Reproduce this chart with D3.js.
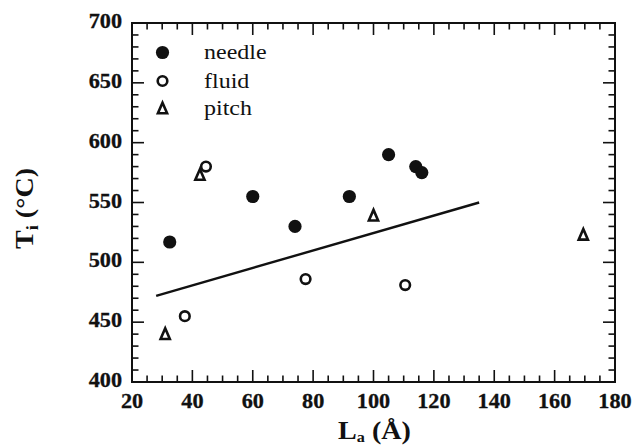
<!DOCTYPE html>
<html>
<head>
<meta charset="utf-8">
<script src="https://cdn.jsdelivr.net/npm/d3@7"></script>
<style>
  html, body { margin: 0; padding: 0; background: #fff; }
  svg { display: block; }
  text { font-family: "Liberation Serif", "Times New Roman", serif; fill: #111; }
</style>
</head>
<body>
<svg id="chart" width="632" height="446"></svg>
<script>
// Ti versus La for three carbon precursor types
const needleLa = [32.5, 60, 74, 92, 105, 114, 116];
const needleTi = [517, 555, 530, 555, 590, 580, 575];

const fluidLa = [44.5, 37.5, 77.5, 110.5];
const fluidTi = [580, 455, 486, 481];

const pitchLa = [42.5, 31, 100, 169.5];
const pitchTi = [573, 440, 539, 523];

// least-squares fit segment endpoints
const fitLa = [28, 135];
const fitTi = [472, 550];

const xTicks = [20, 40, 60, 80, 100, 120, 140, 160, 180];
const yTicks = [400, 450, 500, 550, 600, 650, 700];

const legendNames = ["needle", "fluid", "pitch"];

const W = 632, H = 446;
const m = { left: 132, right: W - 615, top: 23, bottom: H - 382 };

const svg = d3.select("#chart");
const x = d3.scaleLinear().domain([20, 180]).range([m.left, W - m.right]);
const y = d3.scaleLinear().domain([400, 700]).range([H - m.bottom, m.top]);

const ink = "#111";
const SX = 1.06; // horizontal stretch of the bold numerals

// frame
svg.append("rect")
  .attr("x", x(20)).attr("y", y(700))
  .attr("width", x(180) - x(20)).attr("height", y(400) - y(700))
  .attr("fill", "none").attr("stroke", ink).attr("stroke-width", 2);

// inward ticks on all four sides
const xMinor = d3.range(20, 181, 5);
const yMinor = d3.range(400, 701, 10);
const tickG = svg.append("g").attr("stroke", ink).attr("stroke-width", 1.6);
xMinor.forEach(v => {
  const len = v % 20 === 0 ? 12 : 6.5;
  tickG.append("line").attr("x1", x(v)).attr("x2", x(v)).attr("y1", y(400)).attr("y2", y(400) - len);
  tickG.append("line").attr("x1", x(v)).attr("x2", x(v)).attr("y1", y(700)).attr("y2", y(700) + len);
});
yMinor.forEach(v => {
  const len = v % 50 === 0 ? 12 : 6.5;
  tickG.append("line").attr("y1", y(v)).attr("y2", y(v)).attr("x1", x(20)).attr("x2", x(20) + len);
  tickG.append("line").attr("y1", y(v)).attr("y2", y(v)).attr("x1", x(180)).attr("x2", x(180) - len);
});

// tick labels
svg.append("g").selectAll("text").data(xTicks).join("text")
  .attr("transform", d => `translate(${x(d)},${y(400) + 26}) scale(${SX},1)`)
  .attr("text-anchor", "middle")
  .attr("font-size", 21).attr("font-weight", "bold")
  .attr("stroke", ink).attr("stroke-width", 0.3)
  .text(d => d);

svg.append("g").selectAll("text").data(yTicks).join("text")
  .attr("transform", d => `translate(${x(20) - 10},${y(d) + 5}) scale(${SX},1)`)
  .attr("text-anchor", "end")
  .attr("font-size", 21).attr("font-weight", "bold")
  .attr("stroke", ink).attr("stroke-width", 0.3)
  .text(d => d);

// axis titles
const xt = svg.append("text")
  .attr("transform", `translate(${(x(20) + x(180)) / 2 + 1},${439}) scale(1.08,1)`)
  .attr("text-anchor", "middle").attr("font-size", 26).attr("font-weight", "bold");
xt.append("tspan").text("L");
xt.append("tspan").attr("font-size", 15).attr("dy", 3).text("a");
xt.append("tspan").attr("dy", -3).text(" (Å)");

const yt = svg.append("text")
  .attr("transform", `translate(${33},${(y(400) + y(700)) / 2 + 6}) rotate(-90) scale(1.08,1)`)
  .attr("text-anchor", "middle").attr("font-size", 26).attr("font-weight", "bold");
yt.append("tspan").text("T");
yt.append("tspan").attr("font-size", 17).attr("dy", 5).text("i");
yt.append("tspan").attr("dy", -5).text(" (°C)");

// fit line
svg.append("line")
  .attr("x1", x(fitLa[0])).attr("y1", y(fitTi[0]))
  .attr("x2", x(fitLa[1])).attr("y2", y(fitTi[1]))
  .attr("stroke", ink).attr("stroke-width", 2.4);

// marker drawers
function filledDot(g, cx, cy) {
  g.append("circle").attr("cx", cx).attr("cy", cy).attr("r", 6.6).attr("fill", ink);
}
function openDot(g, cx, cy) {
  g.append("circle").attr("cx", cx).attr("cy", cy).attr("r", 4.8)
    .attr("fill", "#fff").attr("stroke", ink).attr("stroke-width", 2.6);
}
const triPath = d3.line()([[0, -5.8], [4.6, 4.8], [-4.6, 4.8]]) + "Z";
function openTri(g, cx, cy) {
  g.append("path").attr("d", triPath).attr("transform", `translate(${cx},${cy})`)
    .attr("fill", "none").attr("stroke", ink).attr("stroke-width", 2.6).attr("stroke-linejoin", "miter");
}

const pts = svg.append("g");
pitchLa.forEach((v, i) => openTri(pts, x(v), y(pitchTi[i])));
fluidLa.forEach((v, i) => openDot(pts, x(v), y(fluidTi[i])));
needleLa.forEach((v, i) => filledDot(pts, x(v), y(needleTi[i])));

// legend
const drawers = [filledDot, openDot, openTri];
const lg = svg.append("g");
const legY = [52.5, 81, 108.5];
legendNames.forEach((name, i) => {
  drawers[i](lg, 162.5, legY[i]);
  lg.append("text")
    .attr("transform", `translate(204,${legY[i] + 6.5}) scale(1.2,1)`)
    .attr("font-size", 20)
    .text(name);
});
</script>
</body>
</html>
